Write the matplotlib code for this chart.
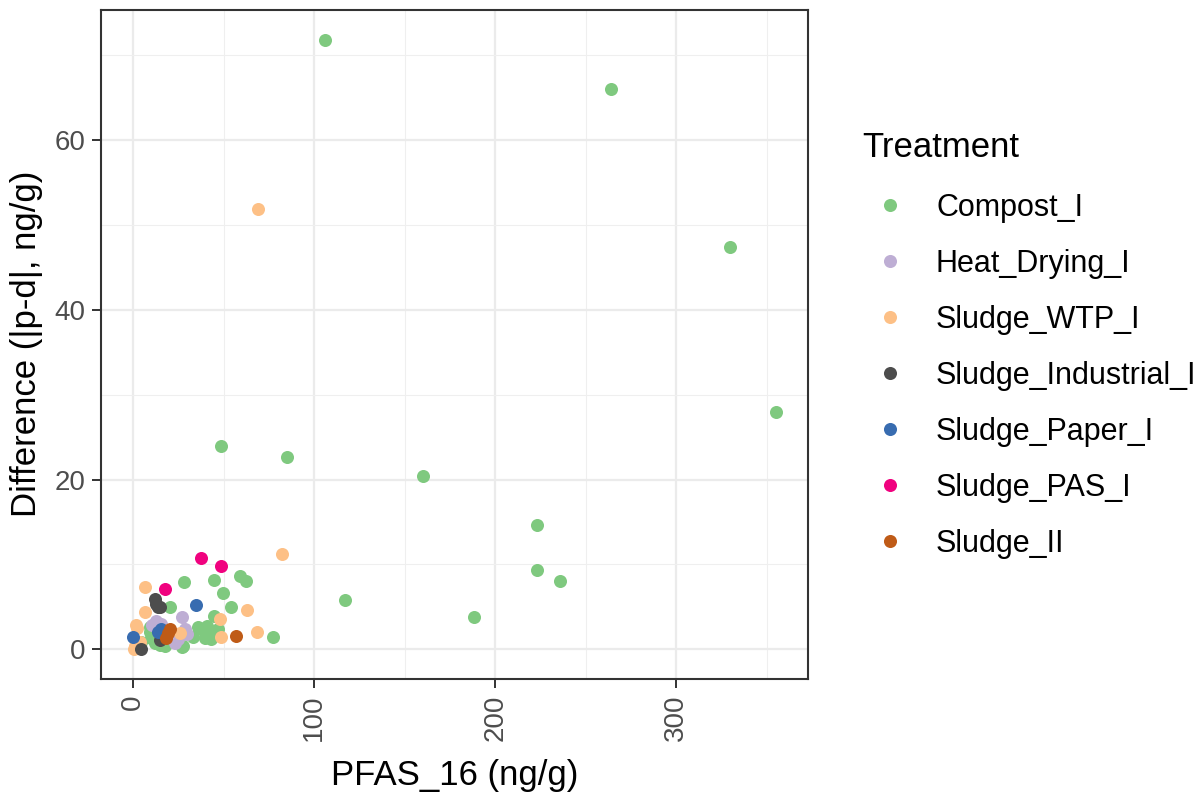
import matplotlib
matplotlib.use('Agg')
import matplotlib.pyplot as plt
from matplotlib.lines import Line2D
from matplotlib.ticker import MultipleLocator
import numpy as np

# data (PFAS_16 vs difference)
treatments = ['Compost_I', 'Heat_Drying_I', 'Sludge_WTP_I', 'Sludge_Industrial_I',
              'Sludge_Paper_I', 'Sludge_PAS_I', 'Sludge_II']
colors = ['#7FC97F', '#BEAED4', '#FDC086', '#4D4D4D', '#386CB0', '#F0027F', '#BF5B17']

compost_x = [106.2, 263.7, 329.6, 355.0, 48.5, 84.8, 160.2, 223.1, 223.1, 235.6, 117.2, 188.3,
             77.5, 58.8, 62.5, 44.5, 28.1, 49.6, 53.9, 20.6, 44.5, 37.7, 43.2, 46.9, 39.5,
             43.2, 33.0, 27.5, 9.2, 10.0, 11.8, 4.5, 17.4, 36.0, 41.0, 27.0, 15.0, 9.5]
compost_y = [71.7, 66.0, 47.4, 27.9, 23.9, 22.7, 20.4, 14.7, 9.3, 8.1, 5.8, 3.8,
             1.5, 8.7, 8.1, 8.2, 7.9, 6.7, 5.0, 5.0, 3.9, 2.4, 2.0, 2.4, 1.4,
             1.2, 1.5, 0.4, 2.1, 1.3, 0.8, 0.9, 0.4, 2.6, 2.8, 0.3, 0.5, 2.7]
heat_x = [27.0, 28.5, 12.8, 23.0, 29.5, 10.5, 25.0, 15.5]
heat_y = [3.8, 2.4, 3.4, 0.7, 1.8, 2.9, 1.2, 3.0]
wtp_x = [68.7, 82.1, 63.1, 68.6, 6.8, 6.8, 1.8, 2.1, 0.9, 2.5, 4.0, 25.7, 48.7, 47.8, 0.3]
wtp_y = [51.9, 11.2, 4.7, 2.1, 7.3, 4.4, 2.9, 2.5, 0.4, 0.7, 0.9, 1.9, 1.5, 3.6, 0.1]
ind_x = [12.0, 12.5, 15.0, 13.5, 4.2, 15.0]
ind_y = [5.9, 5.4, 5.0, 5.0, 0.1, 1.1]
paper_x = [34.9, 15.2, 0.0, 14.0]
paper_y = [5.2, 2.4, 1.5, 2.0]
pas_x = [37.7, 48.3, 17.4]
pas_y = [10.8, 9.8, 7.1]
sludge2_x = [56.6, 20.6, 18.4, 19.5]
sludge2_y = [1.6, 2.4, 1.3, 1.9]

xs = [compost_x, heat_x, wtp_x, ind_x, paper_x, pas_x, sludge2_x]
ys = [compost_y, heat_y, wtp_y, ind_y, paper_y, pas_y, sludge2_y]

plt.rcParams['font.family'] = ['Liberation Sans', 'DejaVu Sans']

W, H = 1201, 793
fig = plt.figure(figsize=(W / 100, H / 100), dpi=100)
ax = fig.add_axes([101 / W, 1 - 679 / H, (808 - 101) / W, (679 - 10) / H])

for x, y, c in zip(xs, ys, colors):
    ax.scatter(x, y, s=88, color=c, linewidths=0, zorder=3)

# ggplot style 5% expansion
allx = np.concatenate([np.array(v) for v in xs])
ally = np.concatenate([np.array(v) for v in ys])
dx = (allx.max() - allx.min()) * 0.05
dy = (ally.max() - ally.min()) * 0.05
ax.set_xlim(allx.min() - dx, allx.max() + dx)
ax.set_ylim(ally.min() - dy, ally.max() + dy)

ax.xaxis.set_major_locator(MultipleLocator(100))
ax.xaxis.set_minor_locator(MultipleLocator(50))
ax.yaxis.set_major_locator(MultipleLocator(20))
ax.yaxis.set_minor_locator(MultipleLocator(10))
ax.grid(which='major', color='#EBEBEB', lw=1.6, zorder=0)
ax.grid(which='minor', color='#EFEFEF', lw=0.8, zorder=0)
ax.set_axisbelow(True)
for sp in ax.spines.values():
    sp.set_color('#333333')
    sp.set_linewidth(1.5)

ax.tick_params(which='major', length=6.3, width=1.4, color='#333333', labelsize=20,
               labelcolor='#4D4D4D', pad=5)
ax.tick_params(which='minor', length=0)
ax.tick_params(axis='x', labelrotation=90)

fig.text(455 / W, 1 - 785 / H, 'PFAS_16 (ng/g)', fontsize=25, ha='center', va='baseline')
fig.text(27 / W, 1 - 344 / H, 'Difference (|p-d|, ng/g)', fontsize=25, rotation=90,
         ha='center', va='center')

# legend
fig.text(862 / W, 1 - 157 / H, 'Treatment', fontsize=25, ha='left', va='baseline')
for i, (name, c) in enumerate(zip(treatments, colors)):
    yk = 205 + i * 56
    fig.add_artist(Line2D([890 / W], [1 - yk / H], marker='o', markersize=9.4,
                          color=c, markeredgewidth=0, linestyle='none',
                          transform=fig.transFigure))
    fig.text(936 / W, 1 - (yk + 11) / H, name, fontsize=22, ha='left', va='baseline')

fig.savefig('out.png', dpi=100)
